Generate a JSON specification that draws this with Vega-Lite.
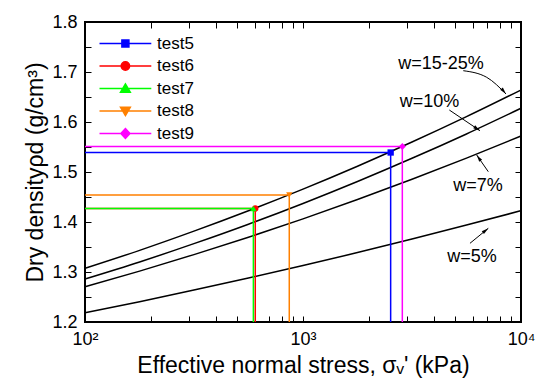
{
  "$schema": "https://vega.github.io/schema/vega-lite/v6.json",
  "width": 436,
  "height": 300,
  "autosize": {"type": "none"},
  "padding": {"left": 85, "top": 22, "right": 16, "bottom": 56},
  "background": "white",
  "config": {
    "font": "Liberation Sans",
    "view": {"stroke": "black", "strokeWidth": 2},
    "axis": {
      "grid": false,
      "domain": false,
      "zindex": 1,
      "offset": -6,
      "tickColor": "black",
      "tickWidth": 1,
      "tickSize": 6,
      "labelColor": "black",
      "labelFontSize": 18,
      "labelFont": "Liberation Sans",
      "titleColor": "black",
      "titleFontSize": 23,
      "titleFont": "Liberation Sans",
      "titleFontWeight": "normal"
    }
  },
  "datasets": {
    "curves": [
      {"w": "15-25", "s": 100, "rho": 1.3074}, {"w": "15-25", "s": 178, "rho": 1.3433}, {"w": "15-25", "s": 316, "rho": 1.3817},
      {"w": "15-25", "s": 562, "rho": 1.4225}, {"w": "15-25", "s": 1000, "rho": 1.4658}, {"w": "15-25", "s": 1778, "rho": 1.5116},
      {"w": "15-25", "s": 3162, "rho": 1.5599}, {"w": "15-25", "s": 5623, "rho": 1.6107}, {"w": "15-25", "s": 10000, "rho": 1.664},
      {"w": "10", "s": 100, "rho": 1.286}, {"w": "10", "s": 178, "rho": 1.3201}, {"w": "10", "s": 316, "rho": 1.3567},
      {"w": "10", "s": 562, "rho": 1.3956}, {"w": "10", "s": 1000, "rho": 1.4371}, {"w": "10", "s": 1778, "rho": 1.481},
      {"w": "10", "s": 3162, "rho": 1.5274}, {"w": "10", "s": 5623, "rho": 1.5761}, {"w": "10", "s": 10000, "rho": 1.6274},
      {"w": "7", "s": 100, "rho": 1.2706}, {"w": "7", "s": 178, "rho": 1.3017}, {"w": "7", "s": 316, "rho": 1.3348},
      {"w": "7", "s": 562, "rho": 1.3695}, {"w": "7", "s": 1000, "rho": 1.4063}, {"w": "7", "s": 1778, "rho": 1.4449},
      {"w": "7", "s": 3162, "rho": 1.4855}, {"w": "7", "s": 5623, "rho": 1.5277}, {"w": "7", "s": 10000, "rho": 1.572},
      {"w": "5", "s": 100, "rho": 1.2186}, {"w": "5", "s": 178, "rho": 1.2407}, {"w": "5", "s": 316, "rho": 1.2638},
      {"w": "5", "s": 562, "rho": 1.2879}, {"w": "5", "s": 1000, "rho": 1.3129}, {"w": "5", "s": 1778, "rho": 1.3388},
      {"w": "5", "s": 3162, "rho": 1.3659}, {"w": "5", "s": 5623, "rho": 1.3938}, {"w": "5", "s": 10000, "rho": 1.4226}
    ],
    "tests": [
      {"test": "test5", "seq": 1, "s": 100, "rho": 1.539}, {"test": "test5", "seq": 2, "s": 2524, "rho": 1.539}, {"test": "test5", "seq": 3, "s": 2524, "rho": 1.2},
      {"test": "test6", "seq": 1, "s": 100, "rho": 1.427}, {"test": "test6", "seq": 2, "s": 604, "rho": 1.427}, {"test": "test6", "seq": 3, "s": 604, "rho": 1.2},
      {"test": "test7", "seq": 1, "s": 100, "rho": 1.427}, {"test": "test7", "seq": 2, "s": 592, "rho": 1.427}, {"test": "test7", "seq": 3, "s": 592, "rho": 1.2},
      {"test": "test8", "seq": 1, "s": 100, "rho": 1.454}, {"test": "test8", "seq": 2, "s": 865, "rho": 1.454}, {"test": "test8", "seq": 3, "s": 865, "rho": 1.2},
      {"test": "test9", "seq": 1, "s": 100, "rho": 1.551}, {"test": "test9", "seq": 2, "s": 2855, "rho": 1.551}, {"test": "test9", "seq": 3, "s": 2855, "rho": 1.2}
    ],
    "labels": [
      {"label": "w=15-25%", "s": 4295, "rho": 1.716},
      {"label": "w=10%", "s": 3804, "rho": 1.6406},
      {"label": "w=7%", "s": 6350, "rho": 1.4726},
      {"label": "w=5%", "s": 5960, "rho": 1.3306}
    ],
    "arrows": [
      {"arrow": "a1", "seq": 1, "s": 5436, "rho": 1.7026}, {"arrow": "a1", "seq": 2, "s": 6961, "rho": 1.6894}, {"arrow": "a1", "seq": 3, "s": 8535, "rho": 1.656},
      {"arrow": "a2", "seq": 1, "s": 4690, "rho": 1.624}, {"arrow": "a2", "seq": 2, "s": 6484, "rho": 1.5826},
      {"arrow": "a3", "seq": 1, "s": 7079, "rho": 1.5006}, {"arrow": "a3", "seq": 2, "s": 6262, "rho": 1.534},
      {"arrow": "a4", "seq": 1, "s": 5834, "rho": 1.3574}, {"arrow": "a4", "seq": 2, "s": 7079, "rho": 1.3874}
    ]
  },
  "layer": [
    {
      "data": {"name": "curves"},
      "mark": {"type": "line", "color": "black", "strokeWidth": 1.5, "interpolate": "monotone"},
      "encoding": {
        "x": {"field": "s", "type": "quantitative", "scale": {"type": "log", "domain": [100, 10000], "nice": false},
          "axis": {"orient": "bottom", "values": [100, 200, 300, 400, 500, 600, 700, 800, 900, 1000, 2000, 3000, 4000, 5000, 6000, 7000, 8000, 9000, 10000],
            "labelExpr": "datum.value === 100 ? '10²' : datum.value === 1000 ? '10³' : datum.value === 10000 ? '10⁴' : ''",
            "labelPadding": 8, "labelFlush": false, "labelOverlap": false, "title": "Effective normal stress, σᵥ' (kPa)", "titlePadding": 6}},
        "y": {"field": "rho", "type": "quantitative", "scale": {"domain": [1.2, 1.8], "nice": false, "zero": false},
          "axis": {"orient": "left", "values": [1.2, 1.25, 1.3, 1.35, 1.4, 1.45, 1.5, 1.55, 1.6, 1.65, 1.7, 1.75, 1.8],
            "labelExpr": "abs(datum.value*10 - round(datum.value*10)) < 0.01 ? format(datum.value, '.1f') : ''",
            "labelPadding": 8, "labelFlush": false, "labelOverlap": false, "title": "Dry densityρd (g/cm³)", "titlePadding": 4}},
        "detail": {"field": "w"}
      }
    },
    {
      "data": {"name": "tests"},
      "mark": {"type": "line", "strokeWidth": 1.5},
      "encoding": {
        "x": {"field": "s", "type": "quantitative", "scale": {"type": "log", "domain": [100, 10000], "nice": false},
          "axis": {"orient": "top", "values": [100, 200, 300, 400, 500, 600, 700, 800, 900, 1000, 2000, 3000, 4000, 5000, 6000, 7000, 8000, 9000, 10000], "labels": false, "title": null}},
        "y": {"field": "rho", "type": "quantitative", "scale": {"domain": [1.2, 1.8], "nice": false, "zero": false},
          "axis": {"orient": "right", "values": [1.2, 1.25, 1.3, 1.35, 1.4, 1.45, 1.5, 1.55, 1.6, 1.65, 1.7, 1.75, 1.8], "labels": false, "title": null}},
        "order": {"field": "seq", "type": "quantitative"},
        "color": {"field": "test", "type": "nominal",
          "scale": {"domain": ["test5", "test6", "test7", "test8", "test9"], "range": ["#0000ff", "#ff0000", "#00ff00", "#ff8000", "#ff00ff"]},
          "legend": {"orient": "none", "legendX": 6, "legendY": 13, "title": null, "labelFontSize": 17, "labelColor": "black", "labelFont": "Liberation Sans",
            "symbolSize": 49, "symbolStrokeWidth": 1.5, "labelOffset": 49, "rowPadding": 4.5, "padding": 0,
            "encoding": {"symbols": {
              "shape": {"value": {"signal": "datum.value==='test5' ? 'M0,0H14.8M6.4,-1H8.4V1H6.4Z' : datum.value==='test6' ? 'M0,0H14.8M6.2,0A1.2,1.2,0,1,0,8.6,0A1.2,1.2,0,1,0,6.2,0Z' : datum.value==='test7' ? 'M0,0H14.8M7.4,-1.3L8.8,1.1L6,1.1Z' : datum.value==='test8' ? 'M0,0H14.8M7.4,1.3L8.8,-1.1L6,-1.1Z' : 'M0,0H14.8M7.4,-1.4L8.7,0L7.4,1.4L6.1,0Z'"}},
              "fill": {"value": {"signal": "scale('color', datum.value)"}},
              "strokeWidth": {"value": 1.5},
              "opacity": {"value": 1},
              "size": {"value": 49}
            }}}
        }
      }
    },
    {
      "data": {"name": "tests"},
      "transform": [{"filter": "datum.seq === 2 && datum.test === 'test5'"}],
      "mark": {"type": "point", "shape": "square", "filled": true, "size": 40, "opacity": 1},
      "encoding": {
        "x": {"field": "s", "type": "quantitative", "scale": {"type": "log", "domain": [100, 10000], "nice": false}, "axis": null},
        "y": {"field": "rho", "type": "quantitative", "scale": {"domain": [1.2, 1.8], "nice": false, "zero": false}, "axis": null},
        "color": {"field": "test", "type": "nominal", "scale": {"domain": ["test5", "test6", "test7", "test8", "test9"], "range": ["#0000ff", "#ff0000", "#00ff00", "#ff8000", "#ff00ff"]}}
      }
    },
    {
      "data": {"name": "tests"},
      "transform": [{"filter": "datum.seq === 2 && datum.test === 'test6'"}],
      "mark": {"type": "point", "shape": "circle", "filled": true, "size": 40, "opacity": 1},
      "encoding": {
        "x": {"field": "s", "type": "quantitative", "scale": {"type": "log", "domain": [100, 10000], "nice": false}, "axis": null},
        "y": {"field": "rho", "type": "quantitative", "scale": {"domain": [1.2, 1.8], "nice": false, "zero": false}, "axis": null},
        "color": {"field": "test", "type": "nominal", "scale": {"domain": ["test5", "test6", "test7", "test8", "test9"], "range": ["#0000ff", "#ff0000", "#00ff00", "#ff8000", "#ff00ff"]}}
      }
    },
    {
      "data": {"name": "tests"},
      "transform": [{"filter": "datum.seq === 2 && datum.test === 'test7'"}],
      "mark": {"type": "point", "shape": "triangle-up", "filled": true, "size": 40, "opacity": 1},
      "encoding": {
        "x": {"field": "s", "type": "quantitative", "scale": {"type": "log", "domain": [100, 10000], "nice": false}, "axis": null},
        "y": {"field": "rho", "type": "quantitative", "scale": {"domain": [1.2, 1.8], "nice": false, "zero": false}, "axis": null},
        "color": {"field": "test", "type": "nominal", "scale": {"domain": ["test5", "test6", "test7", "test8", "test9"], "range": ["#0000ff", "#ff0000", "#00ff00", "#ff8000", "#ff00ff"]}}
      }
    },
    {
      "data": {"name": "tests"},
      "transform": [{"filter": "datum.seq === 2 && datum.test === 'test8'"}],
      "mark": {"type": "point", "shape": "triangle-down", "filled": true, "size": 40, "opacity": 1},
      "encoding": {
        "x": {"field": "s", "type": "quantitative", "scale": {"type": "log", "domain": [100, 10000], "nice": false}, "axis": null},
        "y": {"field": "rho", "type": "quantitative", "scale": {"domain": [1.2, 1.8], "nice": false, "zero": false}, "axis": null},
        "color": {"field": "test", "type": "nominal", "scale": {"domain": ["test5", "test6", "test7", "test8", "test9"], "range": ["#0000ff", "#ff0000", "#00ff00", "#ff8000", "#ff00ff"]}}
      }
    },
    {
      "data": {"name": "tests"},
      "transform": [{"filter": "datum.seq === 2 && datum.test === 'test9'"}],
      "mark": {"type": "point", "shape": "diamond", "filled": true, "size": 50, "opacity": 1},
      "encoding": {
        "x": {"field": "s", "type": "quantitative", "scale": {"type": "log", "domain": [100, 10000], "nice": false}, "axis": null},
        "y": {"field": "rho", "type": "quantitative", "scale": {"domain": [1.2, 1.8], "nice": false, "zero": false}, "axis": null},
        "color": {"field": "test", "type": "nominal", "scale": {"domain": ["test5", "test6", "test7", "test8", "test9"], "range": ["#0000ff", "#ff0000", "#00ff00", "#ff8000", "#ff00ff"]}}
      }
    },
    {
      "data": {"name": "labels"},
      "mark": {"type": "text", "fontSize": 18, "align": "center", "baseline": "middle", "color": "black", "font": "Liberation Sans"},
      "encoding": {
        "x": {"field": "s", "type": "quantitative", "scale": {"type": "log", "domain": [100, 10000], "nice": false}, "axis": null},
        "y": {"field": "rho", "type": "quantitative", "scale": {"domain": [1.2, 1.8], "nice": false, "zero": false}, "axis": null},
        "text": {"field": "label"}
      }
    },
    {
      "data": {"name": "arrows"},
      "mark": {"type": "line", "color": "black", "strokeWidth": 1, "interpolate": "monotone"},
      "encoding": {
        "x": {"field": "s", "type": "quantitative", "scale": {"type": "log", "domain": [100, 10000], "nice": false}, "axis": null},
        "y": {"field": "rho", "type": "quantitative", "scale": {"domain": [1.2, 1.8], "nice": false, "zero": false}, "axis": null},
        "detail": {"field": "arrow"},
        "order": {"field": "seq", "type": "quantitative"}
      }
    },
    {
      "data": {"name": "arrows"},
      "transform": [{"filter": "datum.arrow === 'a1' && datum.seq === 3"}],
      "mark": {"type": "point", "shape": "M0,0L0.45,1.8L-0.45,1.8Z", "filled": true, "color": "black", "opacity": 1, "size": 60, "angle": 140},
      "encoding": {
        "x": {"field": "s", "type": "quantitative", "scale": {"type": "log", "domain": [100, 10000], "nice": false}, "axis": null},
        "y": {"field": "rho", "type": "quantitative", "scale": {"domain": [1.2, 1.8], "nice": false, "zero": false}, "axis": null}
      }
    },
    {
      "data": {"name": "arrows"},
      "transform": [{"filter": "datum.arrow === 'a2' && datum.seq === 2"}],
      "mark": {"type": "point", "shape": "M0,0L0.45,1.8L-0.45,1.8Z", "filled": true, "color": "black", "opacity": 1, "size": 60, "angle": 124},
      "encoding": {
        "x": {"field": "s", "type": "quantitative", "scale": {"type": "log", "domain": [100, 10000], "nice": false}, "axis": null},
        "y": {"field": "rho", "type": "quantitative", "scale": {"domain": [1.2, 1.8], "nice": false, "zero": false}, "axis": null}
      }
    },
    {
      "data": {"name": "arrows"},
      "transform": [{"filter": "datum.arrow === 'a3' && datum.seq === 2"}],
      "mark": {"type": "point", "shape": "M0,0L0.45,1.8L-0.45,1.8Z", "filled": true, "color": "black", "opacity": 1, "size": 60, "angle": 325},
      "encoding": {
        "x": {"field": "s", "type": "quantitative", "scale": {"type": "log", "domain": [100, 10000], "nice": false}, "axis": null},
        "y": {"field": "rho", "type": "quantitative", "scale": {"domain": [1.2, 1.8], "nice": false, "zero": false}, "axis": null}
      }
    },
    {
      "data": {"name": "arrows"},
      "transform": [{"filter": "datum.arrow === 'a4' && datum.seq === 2"}],
      "mark": {"type": "point", "shape": "M0,0L0.45,1.8L-0.45,1.8Z", "filled": true, "color": "black", "opacity": 1, "size": 60, "angle": 51},
      "encoding": {
        "x": {"field": "s", "type": "quantitative", "scale": {"type": "log", "domain": [100, 10000], "nice": false}, "axis": null},
        "y": {"field": "rho", "type": "quantitative", "scale": {"domain": [1.2, 1.8], "nice": false, "zero": false}, "axis": null}
      }
    }
  ],
  "resolve": {"axis": {"x": "independent", "y": "independent"}}
}
